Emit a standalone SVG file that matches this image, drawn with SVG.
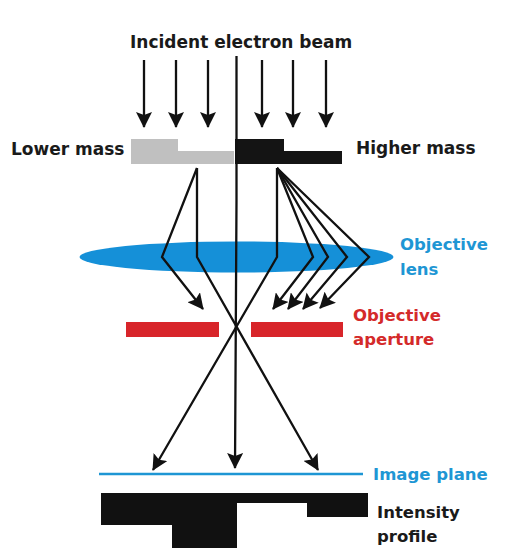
<svg xmlns="http://www.w3.org/2000/svg" width="505" height="558" viewBox="0 0 505 558">
<defs>
<style>
.t{font-family:"DejaVu Sans","Liberation Sans",sans-serif;font-weight:bold;font-size:17px;fill:#1a1a1a}
.b{fill:#1e96d4}
.r{fill:#d42a2a}
.ray{fill:none;stroke:#111;stroke-width:2.3;stroke-linejoin:miter}
.arr{marker-end:url(#ah)}
</style>
<marker id="ah" markerWidth="17" markerHeight="16" refX="15" refY="8" orient="auto" markerUnits="userSpaceOnUse"><path d="M0,0 L16,8 L0,16 L3,8 z" fill="#111"/></marker>
</defs>
<rect width="505" height="558" fill="#fff"/>
<text id="title" class="t" x="130" y="48">Incident electron beam</text>
<g id="lens"><ellipse cx="236.5" cy="257" rx="157" ry="15.5" fill="#1590d8"/></g>
<g id="aperture"><rect x="126" y="322" width="93" height="15" fill="#d8252a"/><rect x="251" y="322" width="92" height="15" fill="#d8252a"/></g>
<g id="specimen">
<path d="M131,139 H178 V151 H234 V164 H131 z" fill="#c0c0c0"/>
<path d="M235,139 H284 V151 H342 V164 H235 z" fill="#141414"/>
</g>
<g id="imageplane"><line x1="99" y1="474" x2="363" y2="474" stroke="#1e96d4" stroke-width="2.5"/></g>
<g id="profile"><path d="M101,493 H368 V517 H307 V503 H237 V548 H172 V525 H101 z" fill="#111"/></g>
<g id="connectors">
<line class="ray arr" x1="144" y1="60" x2="144" y2="127"/>
<line class="ray arr" x1="176" y1="60" x2="176" y2="127"/>
<line class="ray arr" x1="208" y1="60" x2="208" y2="127"/>
<line class="ray arr" x1="262" y1="60" x2="262" y2="127"/>
<line class="ray arr" x1="293" y1="60" x2="293" y2="127"/>
<line class="ray arr" x1="326" y1="60" x2="326" y2="127"/>
<polyline class="ray arr" points="236.5,56 236.5,200 235,468"/>
<polyline class="ray arr" points="197,168 162,257 203,309"/>
<polyline class="ray arr" points="197,168 197,257 318,470"/>
<polyline class="ray arr" points="277,168 277,257 153,470"/>
<polyline class="ray arr" points="277,168 313,257 273,309"/>
<polyline class="ray arr" points="277,168 328,257 288,309"/>
<polyline class="ray arr" points="277,168 347,257 303,309"/>
<polyline class="ray arr" points="277,168 369,257 320,308"/>
</g>
<text id="lower" class="t" x="11" y="155">Lower mass</text>
<text id="higher" class="t" x="356" y="154">Higher mass</text>
<g id="lenslabel"><text class="t b" x="400" y="250" style="font-size:16.5px">Objective</text><text class="t b" x="400" y="275" style="font-size:16.5px">lens</text></g>
<g id="aplabel"><text class="t r" x="353" y="321" style="font-size:16.5px">Objective</text><text class="t r" x="353" y="345" style="font-size:16.5px">aperture</text></g>
<text id="iplabel" class="t b" x="373" y="480" style="font-size:16.5px">Image plane</text>
<g id="proflabel"><text class="t" x="377" y="518" style="font-size:16.5px">Intensity</text><text class="t" x="377" y="542" style="font-size:16.5px">profile</text></g>
</svg>
